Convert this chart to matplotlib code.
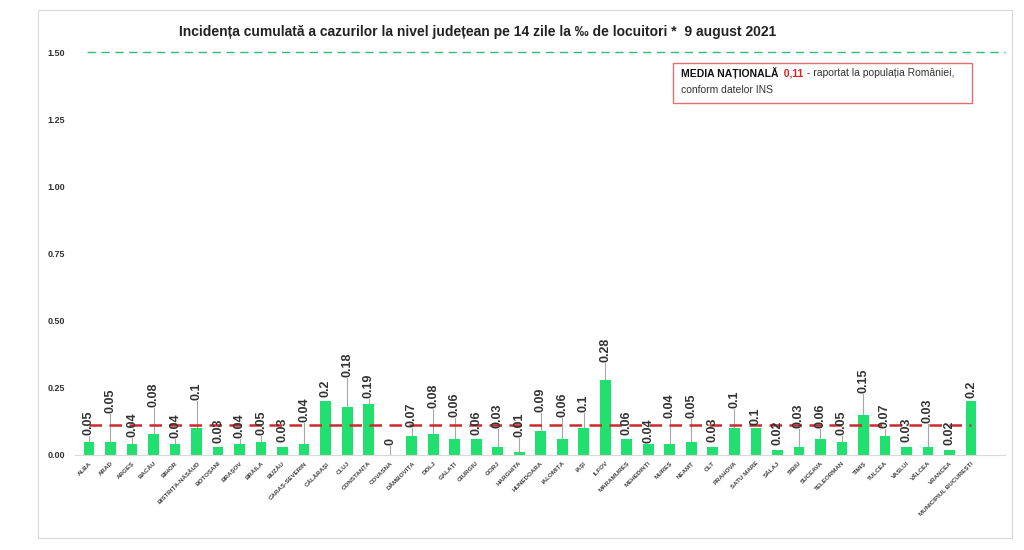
import matplotlib
matplotlib.use("Agg")
import matplotlib.pyplot as plt
from matplotlib.patches import Rectangle
import numpy as np

plt.rcParams['font.family'] = ['Liberation Sans', 'DejaVu Sans']

counties = ["ALBA", "ARAD", "ARGEȘ", "BACĂU", "BIHOR", "BISTRIȚA-NĂSĂUD", "BOTOȘANI",
            "BRAȘOV", "BRĂILA", "BUZĂU", "CARAȘ-SEVERIN", "CĂLĂRAȘI", "CLUJ", "CONSTANȚA",
            "COVASNA", "DÂMBOVIȚA", "DOLJ", "GALAȚI", "GIURGIU", "GORJ", "HARGHITA",
            "HUNEDOARA", "IALOMIȚA", "IAȘI", "ILFOV", "MARAMUREȘ", "MEHEDINȚI", "MUREȘ",
            "NEAMȚ", "OLT", "PRAHOVA", "SATU MARE", "SĂLAJ", "SIBIU", "SUCEAVA",
            "TELEORMAN", "TIMIȘ", "TULCEA", "VASLUI", "VÂLCEA", "VRANCEA",
            "MUNICIPIUL BUCUREȘTI"]
values = [0.05, 0.05, 0.04, 0.08, 0.04, 0.1, 0.03, 0.04, 0.05, 0.03, 0.04, 0.2, 0.18, 0.19,
          0, 0.07, 0.08, 0.06, 0.06, 0.03, 0.01, 0.09, 0.06, 0.1, 0.28, 0.06, 0.04, 0.04,
          0.05, 0.03, 0.1, 0.1, 0.02, 0.03, 0.06, 0.05, 0.15, 0.07, 0.03, 0.03, 0.02, 0.2]
value_labels = ["0.05", "0.05", "0.04", "0.08", "0.04", "0.1", "0.03", "0.04", "0.05", "0.03",
                "0.04", "0.2", "0.18", "0.19", "0", "0.07", "0.08", "0.06", "0.06", "0.03",
                "0.01", "0.09", "0.06", "0.1", "0.28", "0.06", "0.04", "0.04", "0.05", "0.03",
                "0.1", "0.1", "0.02", "0.03", "0.06", "0.05", "0.15", "0.07", "0.03", "0.03",
                "0.02", "0.2"]
national_avg = 0.11
reference_level = 1.50
yticks = [0.00, 0.25, 0.50, 0.75, 1.00, 1.25, 1.50]

# layout: bottom of each rotated value label (data units)
label_bottom = [0.074, 0.155, 0.067, 0.18, 0.063, 0.205, 0.045, 0.063, 0.074, 0.048,
                0.123, 0.216, 0.29, 0.212, 0.037, 0.105, 0.175, 0.14, 0.074, 0.10,
                0.067, 0.16, 0.14, 0.16, 0.346, 0.074, 0.045, 0.138, 0.138, 0.048,
                0.175, 0.112, 0.037, 0.10, 0.10, 0.074, 0.23, 0.10, 0.048, 0.12,
                0.037, 0.212]

W, H = 1024, 550
fig = plt.figure(figsize=(W / 100, H / 100), dpi=100)
fig.patch.set_facecolor('white')
fig.patches.append(Rectangle((38 / W, (H - 538) / H), (1012 - 38) / W, (538 - 10) / H,
                             transform=fig.transFigure, fill=False,
                             edgecolor='#d9d9d9', linewidth=0.8))

ax = fig.add_axes([75 / W, (H - 455) / H, 930 / W, (455 - 52) / H])
x = np.arange(len(counties))
ax.bar(x, values, width=0.5, color='#22e070', zorder=2)

ax.set_xlim(-0.65, len(counties) - 1 + 1.58)
ax.set_ylim(0, 1.5)

# national average line
ax.plot(x, [national_avg] * len(x), color='#cc2a2a', linewidth=1.8,
        dashes=(5, 3), zorder=3)
# reference level line
ax.hlines(reference_level, x[0] - 0.1, ax.get_xlim()[1], color='#33bb77',
          linewidth=1.0, linestyles=(0, (6, 4)), clip_on=False, zorder=3)

for xi, v, lab, lb in zip(x, values, value_labels, label_bottom):
    if lb - v > 0.02:
        ax.plot([xi, xi], [v, lb - 0.004], color='#a6a6a6', linewidth=0.8, zorder=1)
    ax.text(xi, lb, lab, rotation=90, ha='center', va='bottom', fontsize=9,
            fontweight='bold', color='#333333', zorder=4)

for s in ['top', 'right', 'left']:
    ax.spines[s].set_visible(False)
ax.spines['bottom'].set_color('#d9d9d9')
ax.spines['bottom'].set_linewidth(0.8)

ax.set_yticks(yticks)
ax.set_yticklabels([f"{t:.2f}" for t in yticks], fontsize=6.5, fontweight='bold',
                   color='#333333')
ax.tick_params(axis='y', length=0, pad=7)
ax.set_xticks(x)
ax.set_xticklabels(counties, rotation=45, ha='right', rotation_mode='anchor',
                   fontsize=4.5, fontweight='bold', color='#404040')
ax.tick_params(axis='x', length=0, pad=4)

fig.text(478 / W, (H - 32) / H,
         "Incidența cumulată a cazurilor la nivel județean pe 14 zile la ‰ de locuitori *  9 august 2021",
         ha='center', va='center', fontsize=10, fontweight='bold', color='#222222')

# legend-like box
fig.patches.append(Rectangle((673 / W, (H - 103) / H), (972 - 673) / W, (103 - 63) / H,
                             transform=fig.transFigure, fill=False,
                             edgecolor='#e07070', linewidth=1.0))
t1 = fig.text(681 / W, (H - 73) / H, "MEDIA NAȚIONALĂ", fontsize=7.5, fontweight='bold',
              color='#111111', va='center', ha='left')
a2 = ax.annotate("  0,11", xy=(1, 0.5), xycoords=t1, va='center', ha='left',
                 fontsize=7.5, fontweight='bold', color='#e02020')
a3 = ax.annotate(" - raportat la populația României,", xy=(1, 0.5), xycoords=a2,
                 va='center', ha='left', fontsize=7.5, color='#333333')
fig.text(681 / W, (H - 90) / H, "conform datelor INS", fontsize=7.5, color='#333333',
         va='center', ha='left')

fig.savefig("out.png", dpi=100)
